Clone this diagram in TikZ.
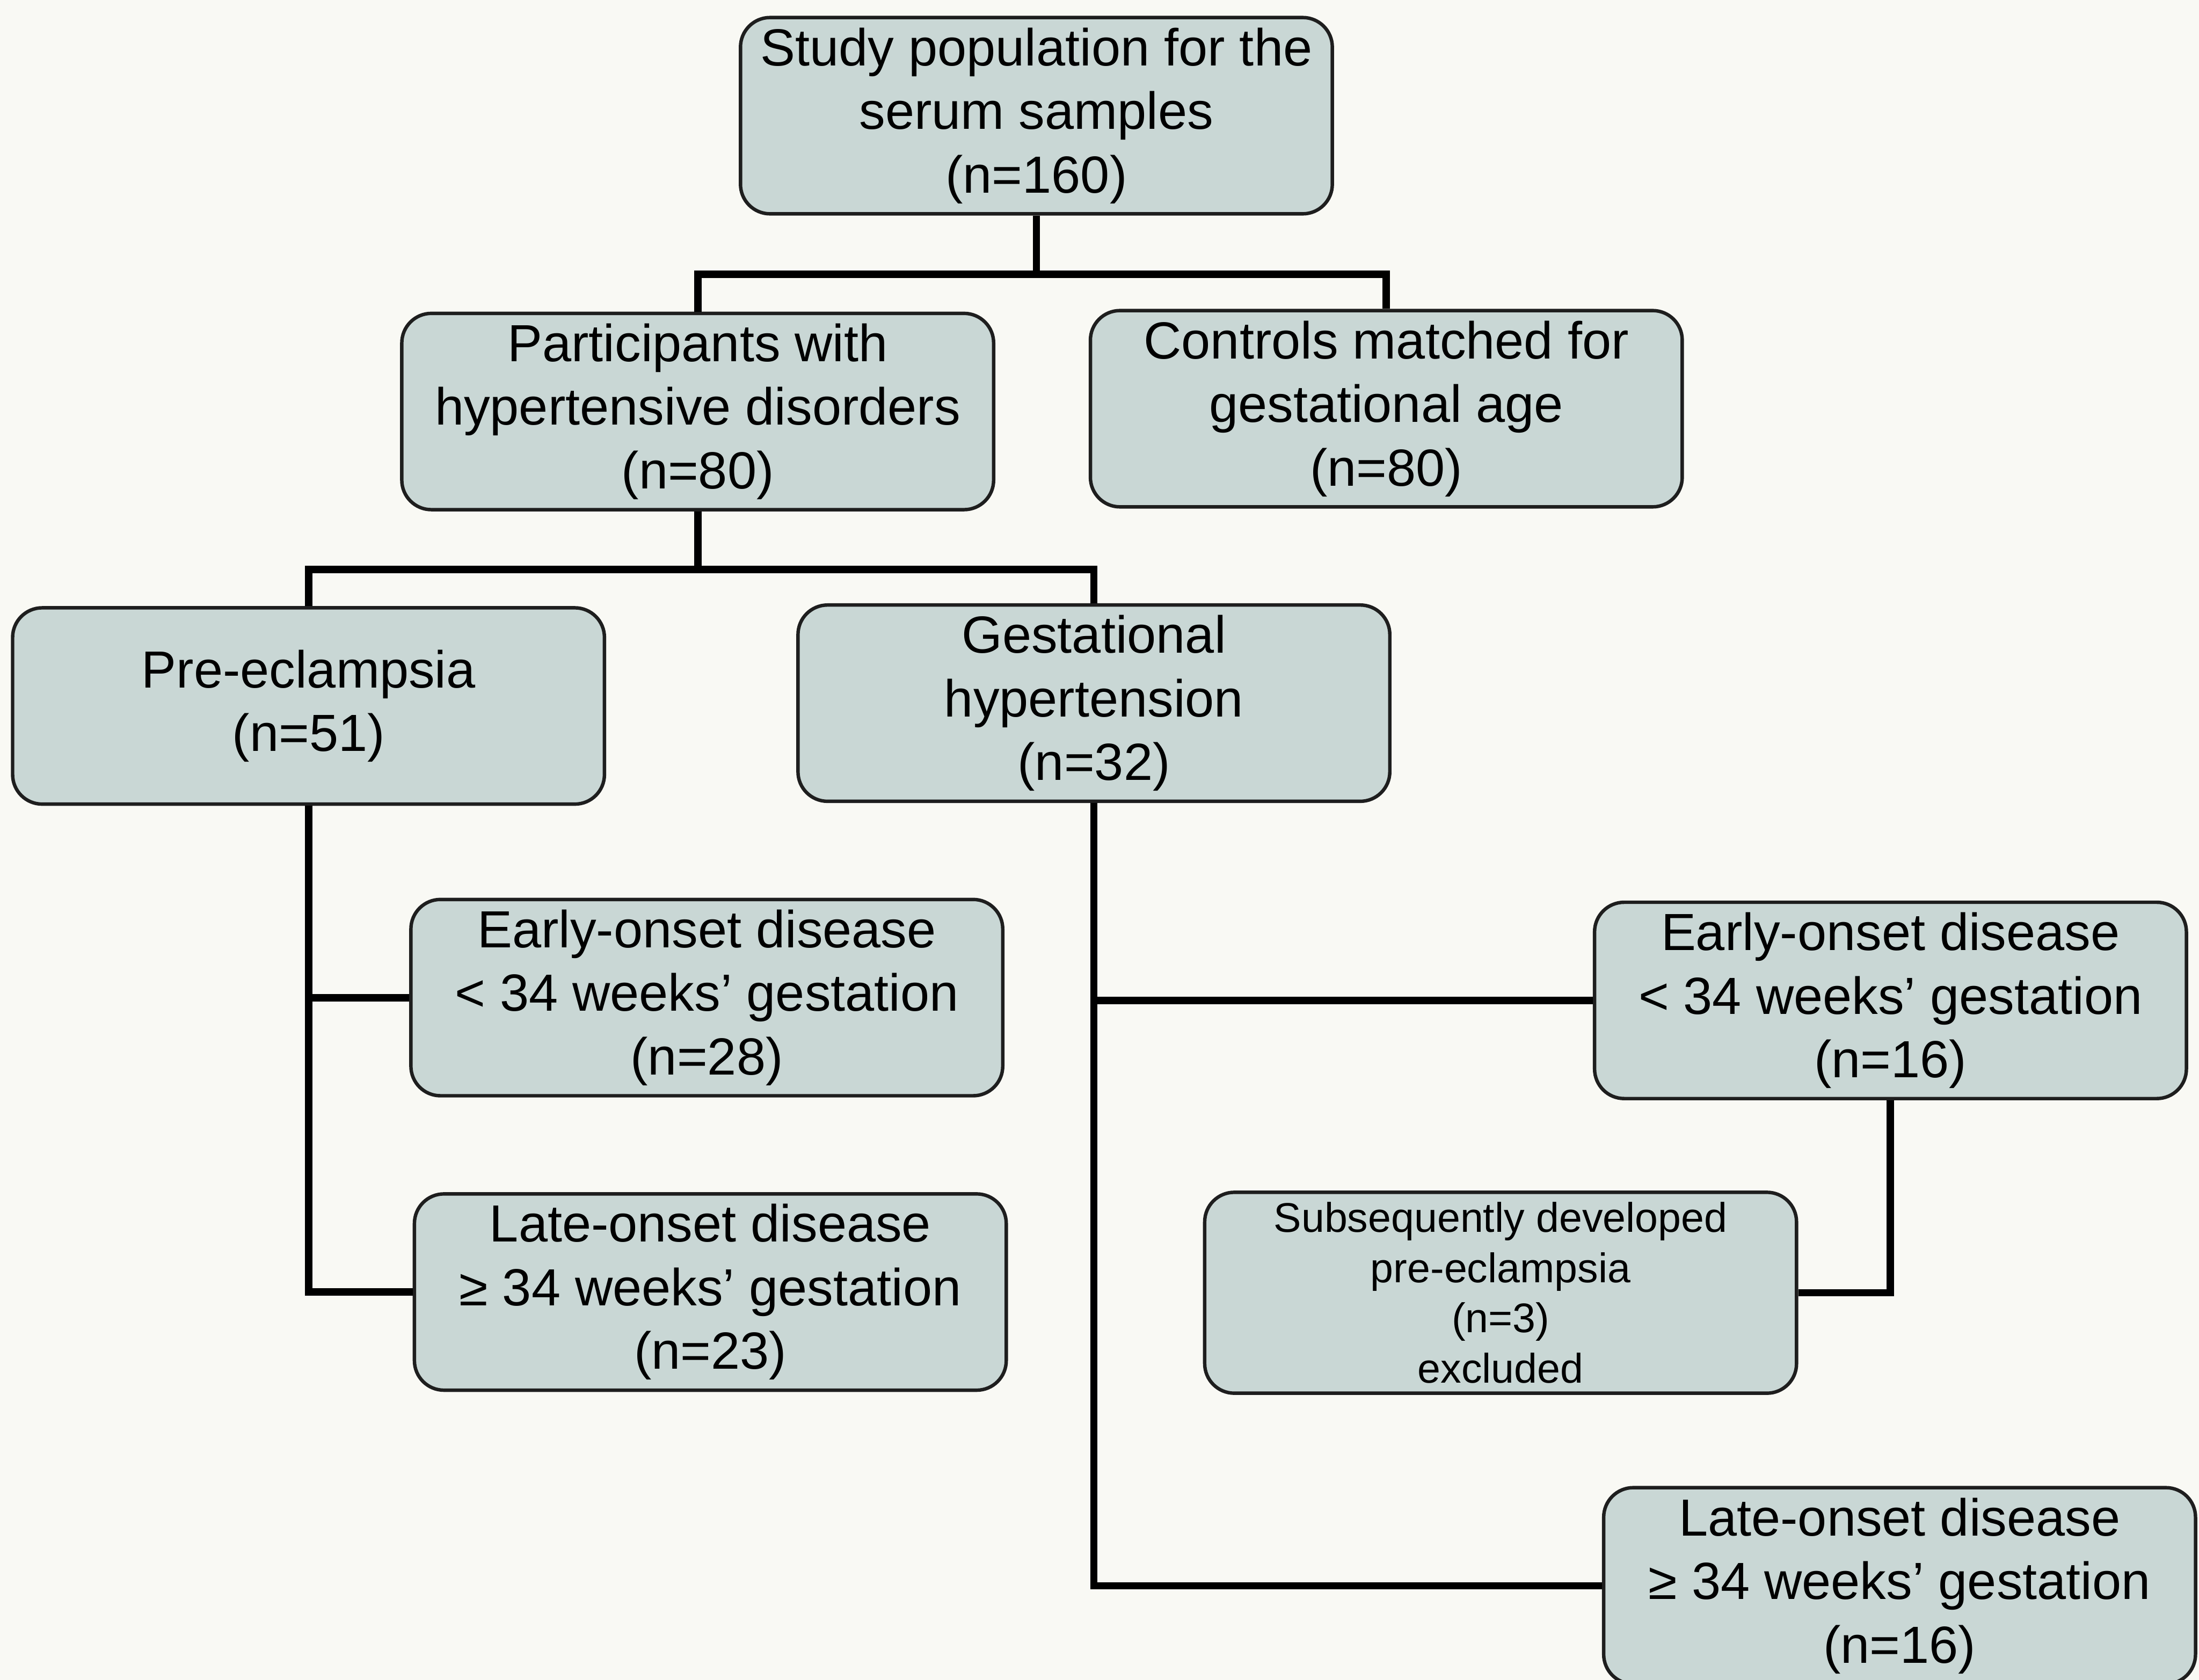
\documentclass[tikz,border=0pt]{standalone}
\usepackage{fontspec}
\setmainfont{Liberation Sans}
\usetikzlibrary{positioning}
\definecolor{boxfill}{HTML}{C9D7D5}
\definecolor{pagebg}{HTML}{F9F9F4}
\definecolor{boxline}{HTML}{1E1E1E}

\begin{document}
\begin{tikzpicture}[
    pbox/.style={rectangle, rounded corners=6pt, minimum width=4.22cm,
                 minimum height=1.40cm, align=center, fill=boxfill,
                 draw=boxline, line width=0.7pt, inner sep=2pt,
                 font=\fontsize{10.6}{12.9}\selectfont},
    smallbox/.style={pbox, font=\fontsize{8.4}{10.2}\selectfont},
    link/.style={draw=black, line width=1.5pt}
  ]

  % ---- Background ----
  \fill[pagebg] (0,0) rectangle (15.68,-11.98);
  \useasboundingbox (0,0) rectangle (15.68,-11.98);

  % ============ BOXES ============

  % top: whole study population
  \node[pbox] (TOP) at (7.39,-0.825)
    {Study population for the\\serum samples\\(n=160)};

  % second row
  \node[pbox] (HYP) at (4.975,-2.935)
    {Participants with\\hypertensive disorders\\(n=80)};
  \node[pbox] (CTRL) at (9.885,-2.915)
    {Controls matched for\\gestational age\\(n=80)};

  % third row
  \node[pbox] (PE) at (2.20,-5.035)
    {Pre-eclampsia\\(n=51)};
  \node[pbox] (GH) at (7.80,-5.015)
    {Gestational\\hypertension\\(n=32)};

  % pre-eclampsia subgroups
  \node[pbox] (PEE) at (5.04,-7.115)
    {Early-onset disease\\< 34 weeks’ gestation\\(n=28)};
  \node[pbox] (PEL) at (5.065,-9.215)
    {Late-onset disease\\≥ 34 weeks’ gestation\\(n=23)};

  % gestational hypertension subgroups
  \node[pbox] (GHE) at (13.48,-7.135)
    {Early-onset disease\\< 34 weeks’ gestation\\(n=16)};
  \node[smallbox] (EXC) at (10.70,-9.22)
    {Subsequently developed\\pre-eclampsia\\(n=3)\\excluded};
  \node[pbox] (GHL) at (13.545,-11.31)
    {Late-onset disease\\≥ 34 weeks’ gestation\\(n=16)};

  % ---- Connectors ----
  \draw[link] (TOP.south) -- ++(0,-0.42) coordinate (split1);
  \draw[link] (HYP.north) |- (split1) -| (CTRL.north);

  \draw[link] (HYP.south) -- ++(0,-0.415) coordinate (split2);
  \draw[link] (PE.north) |- (split2) -| (GH.north);

  \draw[link] (PE.south) |- (PEE.west);
  \draw[link] (PE.south) |- (PEL.west);

  \draw[link] (GH.south) |- (GHE.west);
  \draw[link] (GH.south) |- (GHL.west);

  \draw[link] (GHE.south) |- (EXC.east);

\end{tikzpicture}
\end{document}
